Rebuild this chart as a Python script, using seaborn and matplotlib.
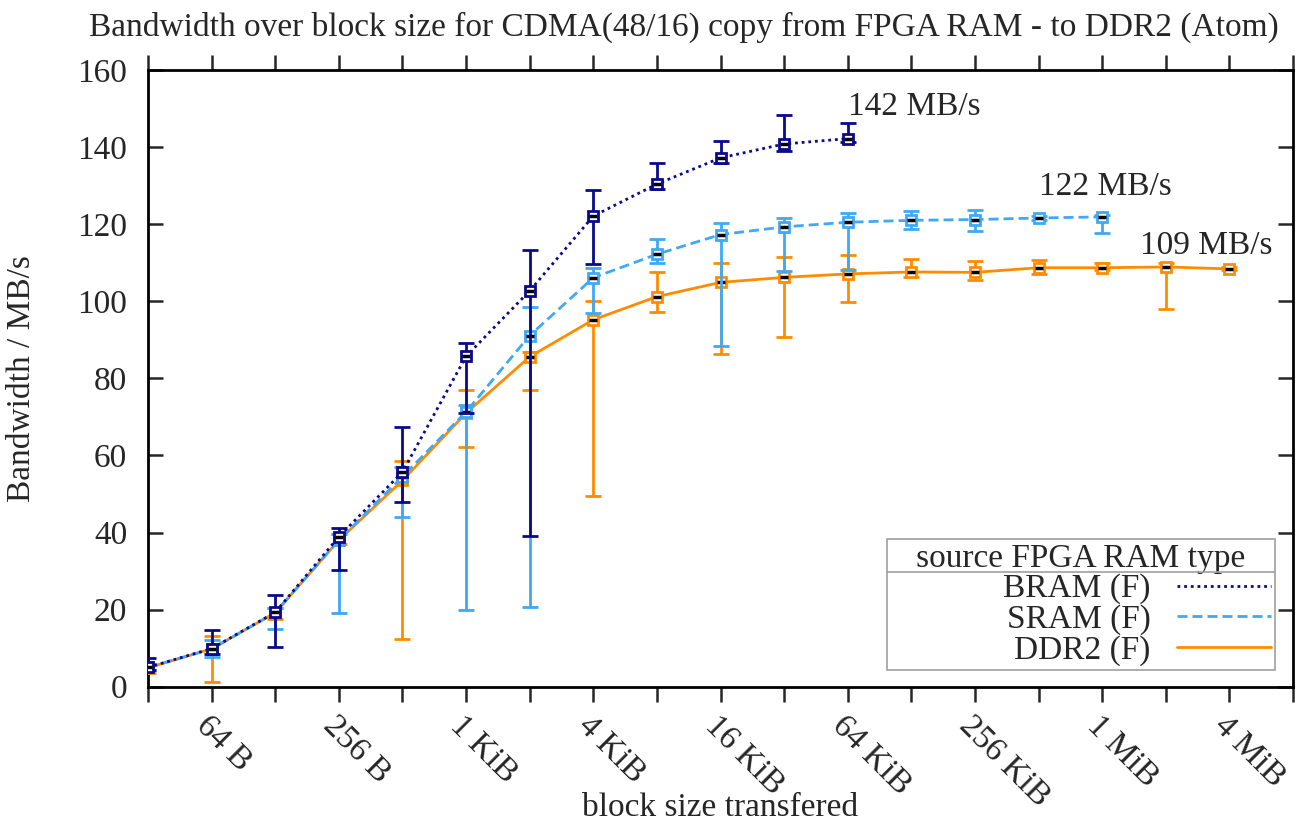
import numpy as np
import pandas as pd
import matplotlib
matplotlib.use("Agg")
import matplotlib.pyplot as plt
from matplotlib.lines import Line2D
import seaborn as sns

# ---------------- data ----------------
block_sizes = [2 ** e for e in range(5, 23)]          # 32 B .. 4 MiB

bram = [5.0, 9.9, 19.3, 38.9, 55.7, 85.7, 102.7, 122.1, 130.4, 137.2, 140.8, 142.2]
bram_lo = [4.4, 8.6, 10.2, 30.4, 48.0, 70.9, 39.1, 109.7, 129.0, 135.8, 139.0, 141.4]
bram_hi = [7.4, 14.8, 23.9, 41.1, 67.3, 89.1, 113.4, 128.8, 136.0, 141.6, 148.3, 146.3]

sram = [5.0, 9.8, 19.2, 38.0, 54.5, 71.3, 91.1, 106.1, 112.2, 117.3, 119.3, 120.5,
        121.0, 121.2, 121.6, 121.9]
sram_lo = [4.3, 7.6, 15.0, 19.0, 44.0, 20.0, 20.8, 97.0, 110.0, 88.5, 107.8, 108.2,
           118.8, 118.1, 121.2, 117.6]
sram_hi = [5.8, 12.2, 20.5, 39.5, 57.0, 73.0, 98.6, 108.7, 116.2, 120.2, 121.7, 122.8,
           123.5, 123.8, 122.2, 122.3]

ddr2 = [4.9, 9.8, 19.2, 38.0, 53.5, 71.0, 85.6, 95.2, 101.2, 104.9, 106.2, 107.1,
        107.6, 107.5, 108.7, 108.7, 108.9, 108.4]
ddr2_lo = [3.5, 1.3, 17.5, 37.0, 12.5, 62.2, 77.0, 49.4, 97.2, 86.4, 90.8, 99.8,
           106.3, 105.6, 107.0, 108.0, 98.0, 108.0]
ddr2_hi = [5.8, 13.1, 20.5, 39.5, 58.5, 76.9, 86.8, 100.0, 107.6, 109.8, 111.5, 112.0,
           111.0, 110.5, 110.6, 109.8, 109.8, 108.8]

series_names = ["BRAM (F)", "SRAM (F)", "DDR2 (F)"]
tick_labels = ["64 B", "256 B", "1 KiB", "4 KiB", "16 KiB", "64 KiB",
               "256 KiB", "1 MiB", "4 MiB"]
peak_labels = ["142 MB/s", "122 MB/s", "109 MB/s"]
peak_x = [2 ** 16, 2 ** 19, 2 ** 20.6]
peak_y = [150.4, 129.6, 114.3]

colors = {"BRAM (F)": "#0a0a8a", "SRAM (F)": "#3fa9f5", "DDR2 (F)": "#ff8c00"}
dashes = {"BRAM (F)": (1.0, 1.4), "SRAM (F)": (3.6, 1.8), "DDR2 (F)": ""}

vals = {"BRAM (F)": (bram, bram_lo, bram_hi),
        "SRAM (F)": (sram, sram_lo, sram_hi),
        "DDR2 (F)": (ddr2, ddr2_lo, ddr2_hi)}

frames = []
for name in series_names:
    v = vals[name][0]
    frames.append(pd.DataFrame({"size": block_sizes[:len(v)], "bw": v, "type": name}))
df = pd.concat(frames, ignore_index=True)

# ---------------- style ----------------
sns.set_theme(style="white")
plt.rcParams["font.family"] = ["Liberation Serif", "DejaVu Serif"]
FS = 24
plt.rcParams["font.size"] = FS

fig = plt.figure(figsize=(13.06, 8.27), dpi=100)
ax = fig.add_axes([148 / 1306, 1 - 686.7 / 827, (1293 - 148) / 1306, (686.7 - 70) / 827])

# draw series from back to front
draw_order = ["DDR2 (F)", "SRAM (F)", "BRAM (F)"]
for k, name in enumerate(draw_order):
    v, lo, hi = vals[name]
    x = block_sizes[:len(v)]
    v = np.array(v); lo = np.array(lo); hi = np.array(hi)
    z = 2 + 3 * k
    ax.errorbar(x, v, yerr=[v - lo, hi - v], fmt="none", ecolor=colors[name],
                elinewidth=2.0, capsize=5.5, capthick=2.0, zorder=z)
    sns.lineplot(data=df[df["type"] == name], x="size", y="bw", color=colors[name],
                 linewidth=2.0, ax=ax, legend=False, errorbar=None,
                 zorder=z + 1)
    if dashes[name]:
        ax.lines[-1].set_dashes(dashes[name])
    ax.plot(x, v, linestyle="none", marker="s", markersize=7.5, markerfacecolor="white",
            markeredgecolor=colors[name], markeredgewidth=2.0, zorder=z + 2)
    ax.plot(x, v, linestyle="none", marker="_", markersize=6, markeredgecolor="black",
            markeredgewidth=2.5, zorder=z + 2.5)

ax.set_xscale("log", base=2)
ax.set_xlim(2 ** 5, 2 ** 23)
ax.set_ylim(0, 160)
ax.set_yticks(np.arange(0, 161, 20))
all_ticks = [2 ** e for e in range(5, 24)]
ax.set_xticks(all_ticks)
labels = []
j = 0
for e in range(5, 24):
    if e % 2 == 0 and j < len(tick_labels):
        labels.append(tick_labels[j]); j += 1
    else:
        labels.append("")
ax.set_xticklabels(labels)
ax.xaxis.set_minor_locator(matplotlib.ticker.NullLocator())

for sp in ax.spines.values():
    sp.set_linewidth(2.0)
    sp.set_color("black")

ax.tick_params(axis="x", which="major", direction="out", length=11, width=1.8,
               top=True, bottom=True, labelsize=FS, pad=6)
ax.tick_params(axis="y", which="major", direction="in", length=11, width=1.8,
               left=True, right=True, labelsize=FS, pad=15)
for lab in ax.get_xticklabels():
    lab.set_rotation(-45)
    lab.set_ha("left")
    lab.set_va("top")
    lab.set_rotation_mode("anchor")

ax.set_xlabel("block size transfered", fontsize=FS, va="center")
ax.xaxis.set_label_coords(0.5, (686.7 - 808) / 616.7)
ax.set_ylabel("Bandwidth / MB/s", fontsize=FS, va="center")
ax.yaxis.set_label_coords((22 - 148) / 1145, 0.5)

fig.text(684 / 1306, 1 - 27 / 827,
         "Bandwidth over block size for CDMA(48/16) copy from FPGA RAM - to DDR2 (Atom)",
         ha="center", va="center", fontsize=FS)

for lbl, px, py in zip(peak_labels, peak_x, peak_y):
    ax.text(px, py, lbl, ha="left", va="center", fontsize=FS)

# legend
handles = []
for name in series_names:
    h = Line2D([0], [0], color=colors[name], linewidth=2.0)
    if dashes[name]:
        h.set_dashes(dashes[name])
    handles.append(h)
leg = ax.legend(handles, series_names, title="   source FPGA RAM type   ",
                loc="lower right", bbox_to_anchor=(0.984, 0.027), borderaxespad=0,
                markerfirst=False, handlelength=2.8, fontsize=FS, title_fontsize=FS,
                frameon=True, fancybox=False, framealpha=1, edgecolor="#a0a0a0",
                labelspacing=0.0, borderpad=0.12, handletextpad=0.8,
                alignment="right")
leg.get_frame().set_linewidth(1.2)
leg.set_zorder(20)
leg.get_title().set_ha("center")

fig.canvas.draw()
r = fig.canvas.get_renderer()
tb = leg.get_title().get_window_extent(r)
fb = leg.get_frame().get_window_extent(r)
yline = tb.y0 + 2
fig.add_artist(Line2D([fb.x0, fb.x1], [yline, yline], transform=None,
                      color="#a0a0a0", linewidth=1.2, zorder=30))

fig.savefig("out.png", dpi=100)
